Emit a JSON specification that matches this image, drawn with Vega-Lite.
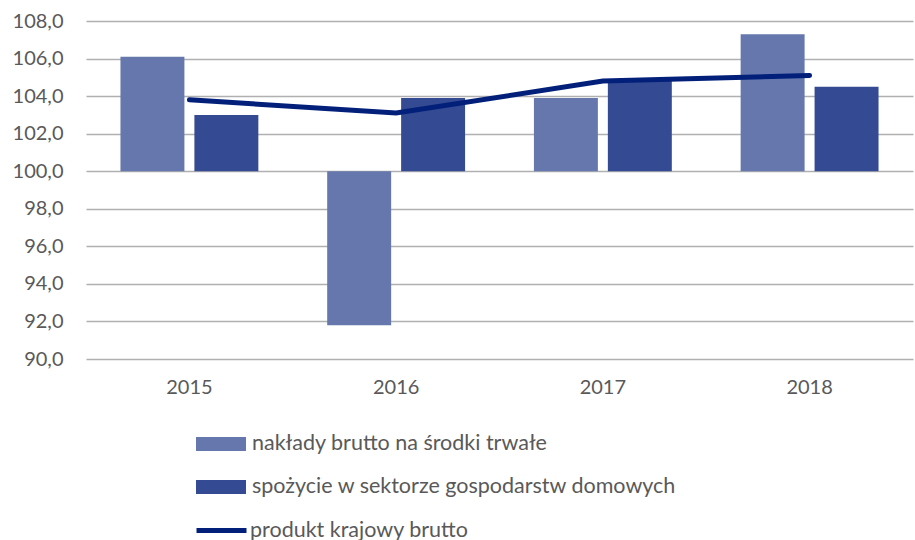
{
  "$schema": "https://vega.github.io/schema/vega-lite/v6.json",
  "width": 827,
  "height": 338,
  "autosize": {"type": "none"},
  "padding": {"left": 86, "top": 21, "right": 2, "bottom": 181},
  "background": "white",
  "config": {
    "font": "Lato",
    "view": {"stroke": null},
    "legend": {"padding": 0},
    "axisY": {"labelOverlap": false}
  },
  "data": {
    "values": [
      {"year": "2015", "series": "nakłady brutto na środki trwałe", "type": "bar", "value": 106.1},
      {"year": "2015", "series": "spożycie w sektorze gospodarstw domowych", "type": "bar", "value": 103.0},
      {"year": "2015", "series": "produkt krajowy brutto", "type": "line", "value": 103.8},
      {"year": "2016", "series": "nakłady brutto na środki trwałe", "type": "bar", "value": 91.8},
      {"year": "2016", "series": "spożycie w sektorze gospodarstw domowych", "type": "bar", "value": 103.9},
      {"year": "2016", "series": "produkt krajowy brutto", "type": "line", "value": 103.1},
      {"year": "2017", "series": "nakłady brutto na środki trwałe", "type": "bar", "value": 103.9},
      {"year": "2017", "series": "spożycie w sektorze gospodarstw domowych", "type": "bar", "value": 104.8},
      {"year": "2017", "series": "produkt krajowy brutto", "type": "line", "value": 104.8},
      {"year": "2018", "series": "nakłady brutto na środki trwałe", "type": "bar", "value": 107.3},
      {"year": "2018", "series": "spożycie w sektorze gospodarstw domowych", "type": "bar", "value": 104.5},
      {"year": "2018", "series": "produkt krajowy brutto", "type": "line", "value": 105.1}
    ]
  },
  "layer": [
    {
      "transform": [{"filter": "datum.type === 'bar'"}],
      "mark": {"type": "bar"},
      "encoding": {
        "x": {
          "field": "year", "type": "ordinal",
          "scale": {"paddingInner": 0.333, "paddingOuter": 0.1667},
          "axis": {"title": null, "labelAngle": 0, "ticks": false, "domain": false, "labelFontSize": 20, "labelColor": "#595959", "labelPadding": 18, "grid": false}
        },
        "xOffset": {
          "field": "series", "type": "nominal",
          "scale": {"domain": ["nakłady brutto na środki trwałe", "spożycie w sektorze gospodarstw domowych"], "paddingInner": 0.135, "paddingOuter": 0}
        },
        "y": {
          "field": "value", "type": "quantitative",
          "scale": {"domain": [90, 108], "nice": false, "zero": false},
          "axis": {
            "title": null, "values": [90, 92, 94, 96, 98, 100, 102, 104, 106, 108],
            "labelExpr": "replace(format(datum.value, '.1f'), '.', ',')",
            "labelOverlap": false,
            "ticks": false, "domain": false, "labelFontSize": 20, "labelColor": "#595959", "labelPadding": 23,
            "gridColor": "#B0B0B0", "gridWidth": 1.5
          }
        },
        "y2": {"datum": 100},
        "color": {
          "field": "series", "type": "nominal",
          "scale": {"domain": ["nakłady brutto na środki trwałe", "spożycie w sektorze gospodarstw domowych"], "range": ["#6677AD", "#344A92"]},
          "legend": {
            "title": null, "orient": "none", "legendX": 110, "legendY": 398, "direction": "vertical",
            "symbolType": "M-1,-0.28H1V0.28H-1Z", "symbolSize": 2500, "symbolStrokeWidth": 0,
            "labelFontSize": 21.5, "labelColor": "#595959", "labelOffset": 6, "rowPadding": 7, "labelLimit": 0
          }
        }
      }
    },
    {
      "transform": [{"filter": "datum.type === 'line'"}],
      "mark": {"type": "line", "strokeWidth": 5, "strokeCap": "round"},
      "encoding": {
        "x": {"field": "year", "type": "ordinal"},
        "y": {
          "field": "value", "type": "quantitative",
          "axis": {
            "title": null, "values": [90, 92, 94, 96, 98, 100, 102, 104, 106, 108],
            "labelExpr": "replace(format(datum.value, '.1f'), '.', ',')",
            "labelOverlap": false,
            "ticks": false, "domain": false, "labelFontSize": 20, "labelColor": "#595959", "labelPadding": 23,
            "gridColor": "#B0B0B0", "gridWidth": 1.5
          }
        },
        "stroke": {
          "field": "series", "type": "nominal",
          "scale": {"domain": ["produkt krajowy brutto"], "range": ["#02207A"]},
          "legend": {
            "title": null, "orient": "none", "legendX": 108, "legendY": 482, "direction": "vertical",
            "symbolType": "stroke", "symbolSize": 2500, "symbolStrokeWidth": 5,
            "labelFontSize": 21.5, "labelColor": "#595959", "labelOffset": 1, "labelLimit": 0
          }
        }
      }
    }
  ]
}
